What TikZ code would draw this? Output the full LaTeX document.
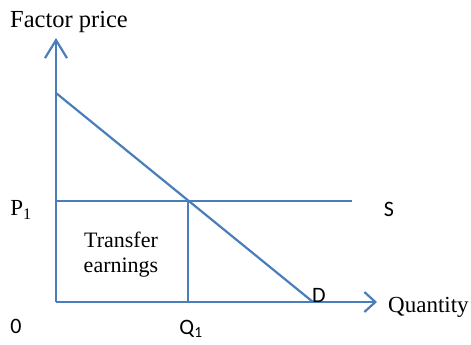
\documentclass[tikz,border=0pt]{standalone}
\usepackage{fontspec}
\setmainfont{Liberation Serif}
\newfontfamily\calfont{Carlito}
\usetikzlibrary{arrows.meta}
\definecolor{lineblue}{HTML}{4A7EBB}
\tikzset{
  curve/.style={draw=lineblue, line width=2.2pt},
  axis/.style={draw=lineblue, line width=2.2pt},
  serif/.style={font=\fontsize{23}{26}\selectfont, inner sep=0pt},
  sans/.style={font=\calfont\fontsize{22}{26}\selectfont, inner sep=0pt},
}
\begin{document}
\begin{tikzpicture}[x=1pt,y=-1pt]
\useasboundingbox (0,0) rectangle (471,345);
\coordinate (O) at (56,302);
\coordinate (Ytop) at (56,38);
\coordinate (Xend) at (377,302);
\coordinate (Dtop) at (56,93);
\coordinate (Dend) at (313,302);
\coordinate (P1L) at (56,201);
\coordinate (Send) at (352,201);
\coordinate (Q1top) at (188,201);
\coordinate (Q1bot) at (188,302);
\draw[axis, -{Straight Barb[length=18pt,width=22pt,line width=2.2pt]}] (O) -- (Ytop);
\draw[axis, -{Straight Barb[length=11pt,width=20pt,line width=2.2pt]}] (O) -- (Xend);
\draw[curve] (Dtop) -- (Dend);
\draw[curve] (P1L) -- (Send);
\draw[curve] (Q1top) -- (Q1bot);
\node[serif, font=\fontsize{24.5}{28}\selectfont] (fp) at (69,22) {Factor price};
\node[serif, anchor=west] (qty) at (388,307) {Quantity};
\node[serif] (p1) at (21,210) {P\textsubscript{1}};
\node[serif, align=center, font=\fontsize{22}{25}\selectfont] (te) at (121,255) {Transfer\\earnings};
\node[sans] (zero) at (16,326) {0};
\node[sans] (q1) at (191,329) {Q\textsubscript{1}};
\node[sans] (d) at (319,295) {D};
\node[sans] (s) at (389,209) {S};
\end{tikzpicture}
\end{document}
